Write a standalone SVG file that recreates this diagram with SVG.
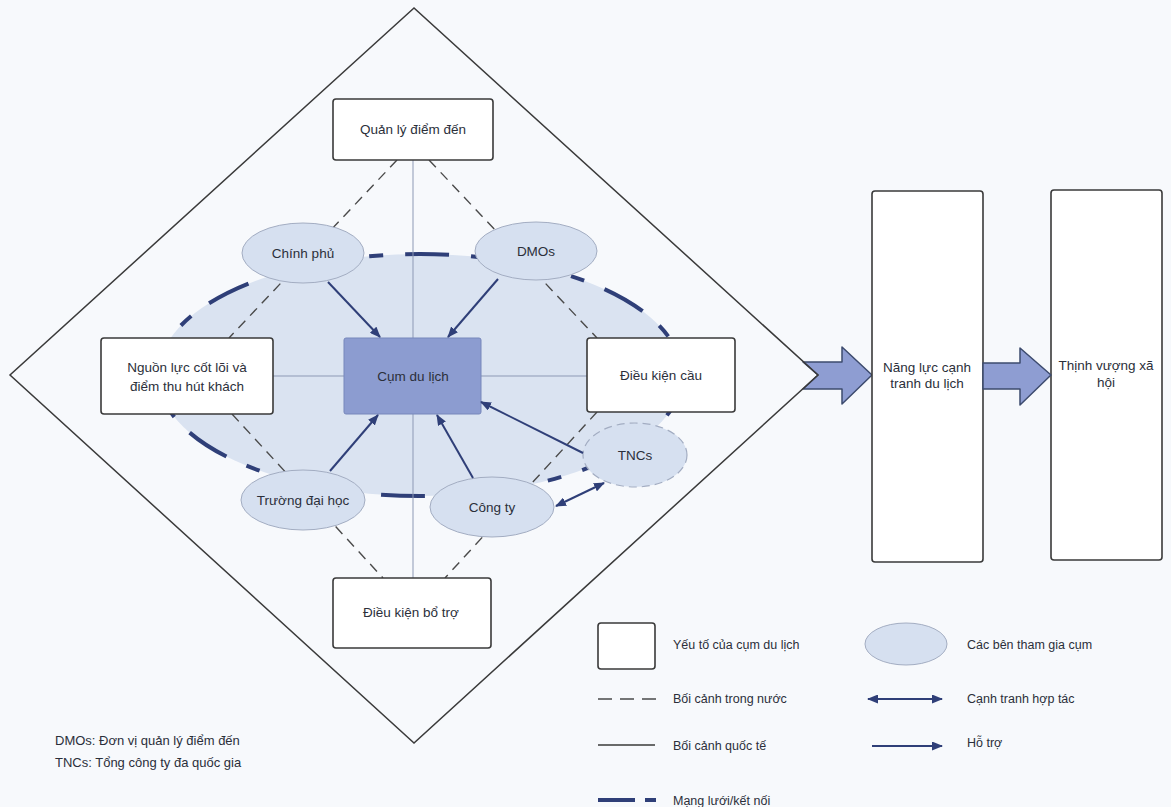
<svg xmlns="http://www.w3.org/2000/svg" width="1171" height="807" viewBox="0 0 1171 807">
<style>
.t{font-family:"Liberation Sans","Noto Sans",Arial,sans-serif;fill:#2b2f3a;font-size:13.5px;text-anchor:middle}
.lt{font-family:"Liberation Sans","Noto Sans",Arial,sans-serif;fill:#2b2f3a;font-size:12.5px}
.nt{font-family:"Liberation Sans","Noto Sans",Arial,sans-serif;fill:#2b2f3a;font-size:13px}
.box{fill:#ffffff;stroke:#3a3a3a;stroke-width:1.6}
.ell{fill:#d6e0f0;stroke:#a3adc2;stroke-width:1}
.dom{stroke:#4a4a4a;stroke-width:1.4;stroke-dasharray:10 7;fill:none}
.intl{stroke:#8d99b5;stroke-width:1;fill:none}
.sup{stroke:#2f3f78;stroke-width:2;fill:none;marker-end:url(#ah)}
.both{stroke:#2f3f78;stroke-width:2;fill:none;marker-end:url(#ah);marker-start:url(#ah)}
.net{stroke:#2f3f78;stroke-width:4;fill:none;stroke-dasharray:44 22 14 22}
.blk{fill:#8e9dd2;stroke:#3d4b6e;stroke-width:1.5;stroke-linejoin:round}
</style>
<defs>
<marker id="ah" viewBox="0 0 11 9" refX="10" refY="4.5" markerWidth="11" markerHeight="9" markerUnits="userSpaceOnUse" orient="auto-start-reverse">
<path d="M0,0 L11,4.5 L0,9 z" fill="#2f3f78"/>
</marker>
</defs>
<rect x="0" y="0" width="1171" height="807" fill="#f7f9fc"/>

<g id="cluster-area">
<ellipse cx="420" cy="375" rx="262" ry="121" fill="#dae3f1"/>
<ellipse cx="420" cy="375" rx="262" ry="121" class="net"/>
</g>

<g id="connectors">
<line class="intl" x1="413" y1="160" x2="413" y2="578"/>
<line class="intl" x1="273" y1="376" x2="587" y2="376"/>
<line class="dom" x1="397" y1="160" x2="229" y2="338"/>
<line class="dom" x1="429" y1="160" x2="597" y2="338"/>
<line class="dom" x1="232" y1="414" x2="383" y2="578"/>
<line class="dom" x1="597" y1="412" x2="445" y2="578"/>
</g>

<g id="node-quanly"><rect class="box" x="333" y="99" width="160" height="61" rx="3"/><text class="t" x="413" y="134">Quản lý điểm đến</text></g>
<g id="node-nguonluc"><rect class="box" x="101" y="338" width="172" height="76" rx="3"/><text class="t" x="187" y="372">Nguồn lực cốt lõi và</text><text class="t" x="187" y="391">điểm thu hút khách</text></g>
<g id="node-cum"><rect x="344" y="338" width="137" height="76" rx="2" fill="#8c9cd0" stroke="#7787bb" stroke-width="1"/><text class="t" x="413" y="381">Cụm du lịch</text></g>
<g id="node-cau"><rect class="box" x="587" y="338" width="148" height="74" rx="3"/><text class="t" x="661" y="380">Điều kiện cầu</text></g>
<g id="node-botro"><rect class="box" x="333" y="578" width="158" height="70" rx="3"/><text class="t" x="411" y="617">Điều kiện bổ trợ</text></g>
<g id="node-chinhphu"><ellipse class="ell" cx="303" cy="253" rx="61" ry="30"/><text class="t" x="303" y="258">Chính phủ</text></g>
<g id="node-dmos"><ellipse class="ell" cx="536" cy="251" rx="61" ry="29"/><text class="t" x="536" y="256">DMOs</text></g>
<g id="node-truong"><ellipse class="ell" cx="303" cy="500" rx="62" ry="30"/><text class="t" x="303" y="505">Trường đại học</text></g>
<g id="node-congty"><ellipse class="ell" cx="492" cy="507" rx="62" ry="30"/><text class="t" x="492" y="512">Công ty</text></g>
<g id="node-tncs"><ellipse cx="635" cy="455" rx="52" ry="32" fill="#d6e0f0" stroke="#a3adc2" stroke-width="1.2" stroke-dasharray="8 5"/><text class="t" x="635" y="460">TNCs</text></g>

<g id="support-arrows">
<line class="sup" x1="328" y1="282" x2="380" y2="337"/>
<line class="sup" x1="498" y1="279" x2="448" y2="337"/>
<line class="sup" x1="330" y1="471" x2="378" y2="415"/>
<line class="sup" x1="473" y1="478" x2="437" y2="415"/>
<line class="sup" x1="583" y1="453" x2="481" y2="402"/>
<line class="both" x1="556" y1="506" x2="604" y2="483"/>
</g>

<g id="block-arrows">
<polygon class="blk" points="803,362 842,362 842,347 872,375 842,404 842,389 803,389 818,375"/>
</g>
<g id="diamond"><polygon points="414,8 10,375 414,743 818,375" fill="none" stroke="#3a3a3a" stroke-width="1.5"/></g>

<g id="node-nangluc"><rect class="box" x="872" y="191" width="111" height="371" rx="3"/><text class="t" x="927" y="372">Năng lực cạnh</text><text class="t" x="927" y="388">tranh du lịch</text></g>
<g id="node-thinhvuong"><rect class="box" x="1051" y="190" width="111" height="370" rx="3"/><text class="t" x="1106" y="370">Thịnh vượng xã</text><text class="t" x="1106" y="387">hội</text></g>
<g id="block-arrow-2"><polygon class="blk" points="983,363 1020,363 1020,348 1051,375 1020,405 1020,389 983,389"/></g>

<g id="notes">
<text class="nt" x="55" y="745">DMOs: Đơn vị quản lý điểm đến</text>
<text class="nt" x="55" y="767">TNCs: Tổng công ty đa quốc gia</text>
</g>

<g id="legend">
<rect class="box" x="598" y="623" width="57" height="46" rx="3"/>
<text class="lt" x="673" y="649">Yếu tố của cụm du lịch</text>
<ellipse class="ell" cx="906" cy="644" rx="41" ry="21"/>
<text class="lt" x="967" y="649">Các bên tham gia cụm</text>
<line x1="598" y1="699" x2="656" y2="699" stroke="#4a4a4a" stroke-width="1.4" stroke-dasharray="14 8"/>
<text class="lt" x="673" y="703">Bối cảnh trong nước</text>
<line class="both" x1="868" y1="699" x2="942" y2="699"/>
<text class="lt" x="967" y="703">Cạnh tranh hợp tác</text>
<line x1="598" y1="745" x2="655" y2="745" stroke="#3a3a3a" stroke-width="1.5"/>
<text class="lt" x="673" y="750">Bối cảnh quốc tế</text>
<line class="sup" x1="872" y1="746" x2="942" y2="746"/>
<text class="lt" x="967" y="747">Hỗ trợ</text>
<line x1="598" y1="800" x2="635" y2="800" stroke="#2f3f78" stroke-width="4"/>
<line x1="645" y1="800" x2="656" y2="800" stroke="#2f3f78" stroke-width="4"/>
<text class="lt" x="673" y="805">Mạng lưới/kết nối</text>
</g>
</svg>
